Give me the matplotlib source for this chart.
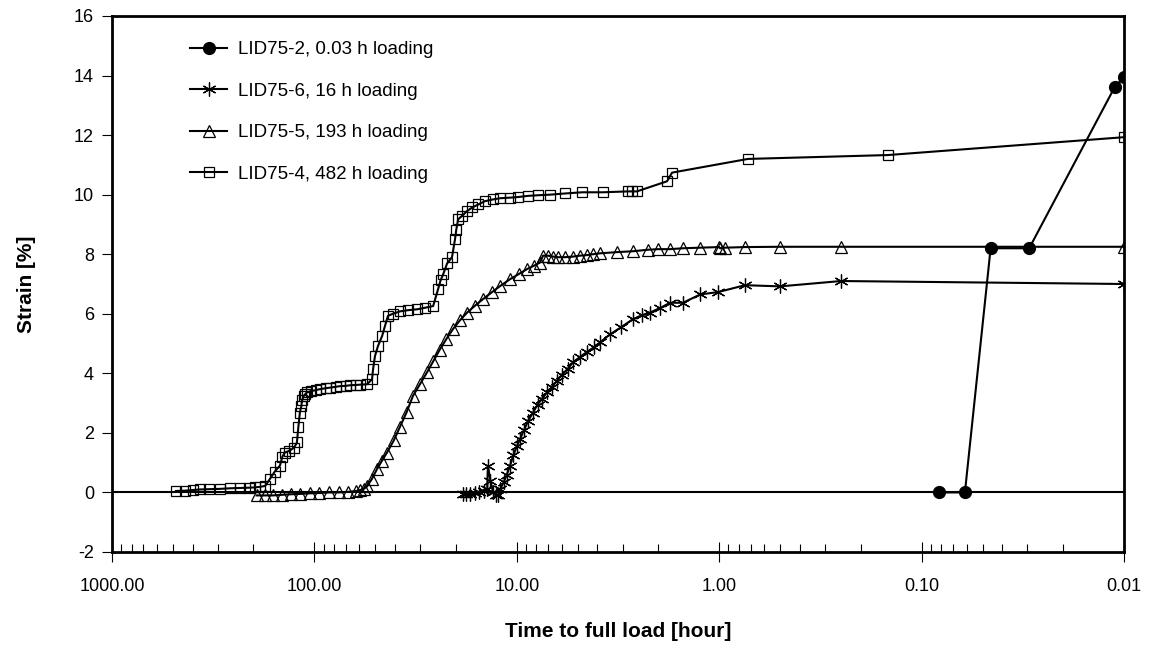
import numpy as np
import matplotlib
matplotlib.use('Agg')
import matplotlib.pyplot as plt
from matplotlib.ticker import LogLocator, FuncFormatter, NullFormatter, FixedLocator

plt.rcParams['font.family'] = ['Liberation Sans', 'DejaVu Sans']
plt.rcParams['axes.unicode_minus'] = False   # plain hyphen on "-2"

# ----- Data -----------------------------------------------------------------
# time to full load in hours, strain in %

# LID75-2, 0.03 h loading
t_02 = [0.0824, 0.0611, 0.0456, 0.0294, 0.0111, 0.0100]
strain_02 = [0.0, 0.0, 8.2, 8.2, 13.62, 13.95]

# LID75-6, 16 h loading
t_06 = [18.4, 17.8, 17.0, 16.1, 15.3, 14.6, 14.0, 13.9, 13.5, 13.1, 12.7, 12.4,
        12.1, 11.6, 11.2, 10.8, 10.4, 10.0, 9.64, 9.2, 8.8, 8.32, 7.9, 7.5,
        7.09, 6.7, 6.33, 6.0, 5.6, 5.28, 4.87, 4.5, 4.15, 3.88, 3.46, 3.05,
        2.67, 2.4, 2.2, 1.95, 1.75, 1.51, 1.24, 1.01, 0.746, 0.50, 0.25, 0.01]
strain_06 = [-0.05, -0.05, -0.05, -0.03, 0.0, 0.05, 0.1, 0.9, 0.4, 0.0, -0.1, -0.1,
             0.1, 0.35, 0.6, 0.9, 1.25, 1.55, 1.79, 2.1, 2.4, 2.68, 2.95, 3.15,
             3.36, 3.55, 3.75, 3.95, 4.15, 4.37, 4.55, 4.72, 4.88, 5.04, 5.31, 5.55,
             5.82, 5.95, 6.04, 6.2, 6.37, 6.37, 6.65, 6.73, 6.96, 6.92, 7.1, 7.0]

# LID75-5, 193 h loading
t_05 = [193, 175, 160, 145, 130, 118, 105, 95, 85, 76, 68, 62, 59.5, 57, 55, 52,
        49.1, 46.5, 43.8, 40.5, 37.8, 35, 32.6, 30, 27.8, 25.8, 24.0, 22.3, 20.7,
        19.1, 17.6, 16.1, 14.7, 13.3, 12.1, 10.8, 9.8, 8.9, 8.2, 7.68, 7.42, 7.0,
        6.6, 6.26, 5.8, 5.28, 4.9, 4.5, 4.2, 3.88, 3.2, 2.67, 2.25, 2.01, 1.75,
        1.51, 1.24, 1.0, 0.99, 0.936, 0.746, 0.50, 0.25, 0.01]
strain_05 = [-0.1, -0.1, -0.1, -0.08, -0.06, -0.05, -0.03, -0.02, 0.0, 0.0, 0.02,
             0.05, 0.08, 0.12, 0.2, 0.45, 0.78, 1.05, 1.34, 1.75, 2.2, 2.7, 3.24,
             3.65, 4.03, 4.42, 4.8, 5.15, 5.48, 5.78, 6.04, 6.27, 6.49, 6.72, 6.93,
             7.16, 7.33, 7.5, 7.62, 7.72, 7.95, 7.95, 7.92, 7.9, 7.9, 7.92, 7.95,
             7.97, 8.0, 8.03, 8.07, 8.1, 8.15, 8.17, 8.17, 8.2, 8.22, 8.24, 8.2,
             8.22, 8.24, 8.25, 8.25, 8.25]

# LID75-4, 482 h loading
t_04 = [483, 436, 400, 367, 330, 293, 260, 233, 210, 197, 185, 175, 166, 157,
        148, 144, 140, 133, 126, 122, 120, 118, 116, 115, 113, 111, 108.8, 104,
        98, 93.8, 88, 83.7, 78, 74.7, 70, 66.7, 62, 59.5, 55, 51.9, 51.3, 50.2,
        48.5, 46.3, 44.8, 43.3, 41, 37.8, 34.5, 31.1, 28.5, 25.9, 24.5, 23.8,
        23.1, 22.1, 20.9, 20.2, 19.9, 19.5, 18.7, 17.6, 16.6, 15.5, 14.4, 13.1,
        12.1, 10.8, 9.87, 8.8, 7.86, 6.86, 5.78, 4.76, 3.75, 2.82, 2.70, 2.55,
        1.81, 1.71, 0.721, 0.147, 0.01]
strain_04 = [0.05, 0.06, 0.08, 0.1, 0.11, 0.12, 0.14, 0.15, 0.16, 0.17, 0.19, 0.22,
             0.45, 0.7, 0.9, 1.2, 1.34, 1.4, 1.5, 1.68, 2.2, 2.68, 2.9, 3.1, 3.24,
             3.3, 3.36, 3.4, 3.44, 3.47, 3.5, 3.52, 3.55, 3.57, 3.58, 3.6, 3.61,
             3.62, 3.63, 3.8, 4.14, 4.58, 4.92, 5.25, 5.59, 5.93, 6.0, 6.08, 6.12,
             6.15, 6.2, 6.26, 6.82, 7.12, 7.33, 7.69, 7.9, 8.5, 8.83, 9.17, 9.28,
             9.45, 9.57, 9.67, 9.78, 9.84, 9.88, 9.9, 9.92, 9.96, 9.98, 10.0,
             10.04, 10.08, 10.08, 10.11, 10.11, 10.11, 10.45, 10.74, 11.2, 11.33,
             11.93]

labels = ['LID75-2, 0.03 h loading', 'LID75-6, 16 h loading',
          'LID75-5, 193 h loading', 'LID75-4, 482 h loading']
x_ticks = [1000, 100, 10, 1, 0.1, 0.01]
y_ticks = [-2, 0, 2, 4, 6, 8, 10, 12, 14, 16]

# ----- Figure ----------------------------------------------------------------
fig = plt.figure(figsize=(11.54, 6.51), dpi=100)
ax = fig.add_axes([112/1154, 1 - 552/651, 1012/1154, 536/651])

ax.axhline(0, color='black', linewidth=1.5, zorder=1)

lw = 1.5
ax.plot(t_02, strain_02, color='black', linewidth=lw, marker='o',
        markersize=8.5, markerfacecolor='black', label=labels[0], zorder=3)
ax.plot(t_06, strain_06, color='black', linewidth=lw, marker=(6, 2, 0),
        markersize=10, markeredgewidth=0.9, markeredgecolor='black',
        label=labels[1], zorder=3)
ax.plot(t_05, strain_05, color='black', linewidth=lw, marker='^',
        markersize=9, markeredgewidth=0.9, markerfacecolor='none',
        label=labels[2], zorder=3)
ax.plot(t_04, strain_04, color='black', linewidth=lw, marker='s',
        markersize=7.5, markeredgewidth=0.9, markerfacecolor='none',
        label=labels[3], zorder=3)

# log time axis running from 1000 h down to 0.01 h
ax.set_xscale('log')
ax.set_xlim(1000, 0.01)
ax.set_ylim(-2, 16)
ax.xaxis.set_major_locator(FixedLocator(x_ticks))
ax.xaxis.set_major_formatter(FuncFormatter(lambda v, p: '%.2f' % v))
ax.xaxis.set_minor_locator(LogLocator(base=10, subs=np.arange(2, 10), numticks=20))
ax.xaxis.set_minor_formatter(NullFormatter())
ax.set_yticks(y_ticks)

for sp in ax.spines.values():
    sp.set_linewidth(2)
    sp.set_color('black')

ax.tick_params(axis='x', which='major', direction='inout', length=14, width=0.8,
               labelsize=13, pad=12, top=False)
ax.tick_params(axis='x', which='minor', direction='in', length=5.5, width=0.8,
               top=False)
ax.tick_params(axis='y', which='major', direction='out', length=7, width=0.8,
               labelsize=13, pad=6, right=False)

ax.set_xlabel('Time to full load [hour]', fontsize=15, fontweight='bold')
ax.set_ylabel('Strain [%]', fontsize=15, fontweight='bold')
ax.xaxis.set_label_coords(0.5, -0.13)
ax.yaxis.set_label_coords(-0.075, 0.5)

ax.legend(loc='upper left', bbox_to_anchor=(0.077, 0.953), frameon=False,
          fontsize=13.5, borderpad=0, borderaxespad=0, handlelength=2.0,
          handletextpad=0.55, labelspacing=1.3, numpoints=1)

fig.savefig('out.png', dpi=100)
